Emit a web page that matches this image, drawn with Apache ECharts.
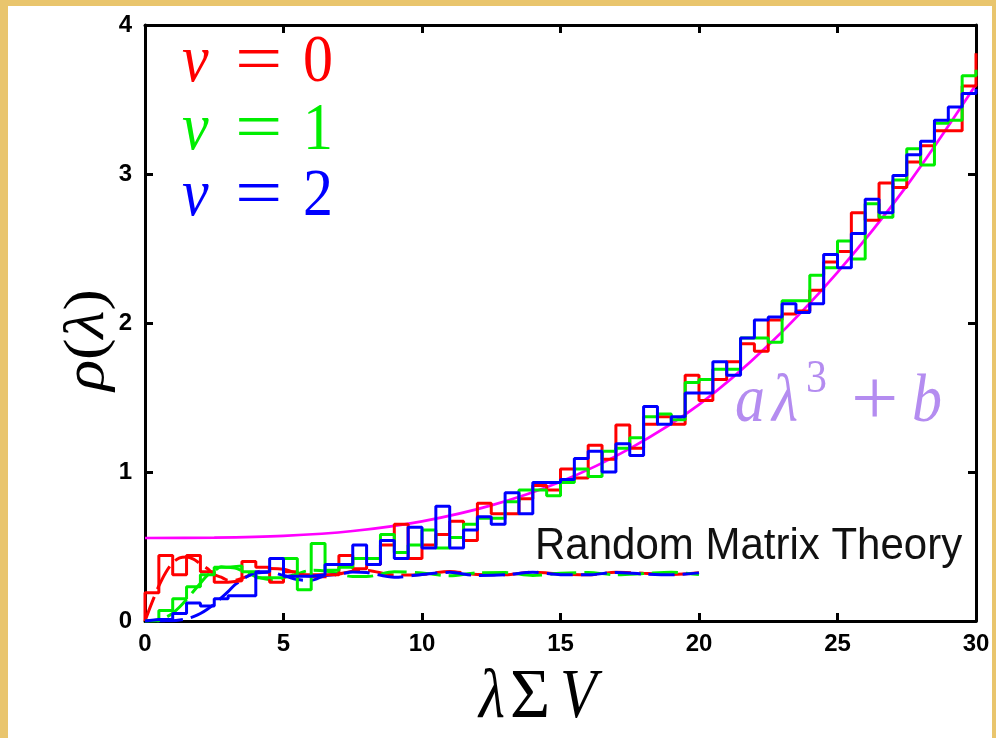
<!DOCTYPE html>
<html><head><meta charset="utf-8">
<script src="https://cdn.jsdelivr.net/npm/echarts@6/dist/echarts.min.js"></script>
<style>html,body{margin:0;padding:0;background:#fff}#c{width:996px;height:738px}</style>
</head><body><div id="c"></div>
<script>
// ---- data ----
const binEdges = [0,0.5,1,1.5,2,2.5,3,3.5,4,4.5,5,5.5,6,6.5,7,7.5,8,8.5,9,9.5,
  10,10.5,11,11.5,12,12.5,13,13.5,14,14.5,15,15.5,16,16.5,17,17.5,18,18.5,19,19.5,
  20,20.5,21,21.5,22,22.5,23,23.5,24,24.5,25,25.5,26,26.5,27,27.5,28,28.5,29,29.5,30];
const redHist = [0.19,0.44,0.31,0.44,0.33,0.26,0.27,0.40,0.36,0.26,
  0.33,0.31,0.31,0.31,0.44,0.35,0.38,0.51,0.65,0.42,
  0.51,0.58,0.67,0.54,0.79,0.72,0.72,0.82,0.91,0.88,
  1.02,0.96,1.18,1.085,1.315,1.16,1.32,1.37,1.32,1.65,
  1.48,1.62,1.74,1.86,1.81,2.02,2.06,2.08,2.22,2.41,
  2.48,2.74,2.69,2.94,2.91,3.08,3.19,3.29,3.29,3.59,
  3.81];
const greenHist = [0.00,0.07,0.15,0.23,0.31,0.36,0.37,0.33,0.29,0.29,
  0.42,0.21,0.52,0.34,0.36,0.42,0.42,0.58,0.46,0.51,
  0.61,0.49,0.56,0.65,0.69,0.69,0.80,0.88,0.88,0.84,
  0.93,1.02,0.97,1.14,1.16,1.23,1.37,1.39,1.35,1.60,
  1.62,1.69,1.69,1.90,1.90,1.87,2.15,2.15,2.32,2.37,
  2.55,2.43,2.80,2.71,2.96,3.17,3.06,3.34,3.36,3.66,
  3.70];
const blueHist = [0.01,0.01,0.05,0.12,0.10,0.15,0.17,0.17,0.33,0.42,
  0.30,0.30,0.31,0.38,0.38,0.51,0.38,0.54,0.42,0.63,
  0.49,0.77,0.49,0.61,0.70,0.65,0.86,0.72,0.93,0.93,
  0.95,1.09,1.14,1.00,1.19,1.11,1.44,1.32,1.37,1.53,
  1.53,1.74,1.65,1.90,2.02,2.04,2.13,2.07,2.13,2.46,
  2.37,2.60,2.83,2.74,2.99,3.13,3.22,3.36,3.45,3.54,
  3.57];

const rmtX = [0,0.25,0.5,0.75,1,1.25,1.5,1.75,2,2.25,2.5,2.75,3,3.25,3.5,3.75,4,4.5,5,5.5,6,6.5,7,7.5,8,9,10,11,12,13,14,15,16,17,18,19,20];
const rmtRed = [0,0.123,0.235,0.326,0.39,0.424,0.43,0.415,0.383,0.352,0.312,0.294,0.274,0.274,0.286,0.305,0.324,0.352,0.348,0.32,0.30,0.297,0.315,0.334,0.339,0.308,0.312,0.333,0.312,0.31,0.328,0.315,0.31,0.327,0.32,0.312,0.324];
const rmtGreen = [0,0.001,0.008,0.024,0.053,0.094,0.144,0.20,0.254,0.307,0.335,0.364,0.36,0.356,0.338,0.319,0.298,0.278,0.29,0.317,0.34,0.336,0.316,0.298,0.298,0.33,0.323,0.303,0.323,0.325,0.306,0.32,0.326,0.31,0.318,0.327,0.312];
const rmtBlue = [0,0,0,0.001,0.002,0.007,0.015,0.029,0.05,0.079,0.114,0.155,0.197,0.244,0.276,0.305,0.322,0.328,0.305,0.278,0.273,0.305,0.314,0.329,0.325,0.294,0.312,0.327,0.305,0.31,0.327,0.311,0.31,0.326,0.315,0.31,0.323];

const fitX = [0,2.5,5,7.5,10,12.5,15,17.5,20,22.5,25,27.5,30];
const fitY = [0.557,0.559,0.571,0.604,0.669,0.776,0.935,1.157,1.452,1.85,2.34,2.92,3.60];

const xTicks = [0,5,10,15,20,25,30];
const yTicks = [0,1,2,3,4];
const nuValues = ['0','1','2'];
const seriesColors = ['#ff0000','#00ee00','#0000ff'];
const fitLabel = ['a','λ','3','+','b'];
const rmtLabel = 'Random Matrix Theory';

// ---- build ----
function histData(vals){
  const d=[[binEdges[0],0]];
  for(let i=0;i<vals.length;i++) d.push([binEdges[i],vals[i]]);
  return d;
}
function pairs(xs,ys){return xs.map((x,i)=>[x,ys[i]]);}

const chart = echarts.init(document.getElementById('c'),null,{renderer:'canvas'});
const axisCommon = {
  type:'value', splitLine:{show:false},
  axisLine:{show:true,onZero:false,lineStyle:{color:'#000',width:3}},
  axisTick:{show:true,inside:true,length:8,lineStyle:{color:'#000',width:3}},
};
const lbl = {color:'#000',fontSize:24,fontWeight:'bold',fontFamily:'"Liberation Sans", Arial, sans-serif'};

const SERIF = '"Liberation Serif", "DejaVu Serif", serif';
function txt(str,x,y,font,fill,sy,sx){
  return {type:'text',x:x,y:y,scaleY:sy||1,scaleX:sx||1,z:50,
    style:{text:str,font:font,fill:fill,textAlign:'left',textVerticalAlign:'middle',verticalAlign:'middle'}};
}
const graphics = [
  {type:'rect',shape:{x:0,y:0,width:8,height:738},style:{fill:'#e9c56d'},z:60},
  {type:'rect',shape:{x:0,y:0,width:996,height:6},style:{fill:'#e9c56d'},z:60},
  {type:'rect',shape:{x:992,y:0,width:4,height:738},style:{fill:'#e9c56d'},z:60},
];
const legendY = [63,131,197];
nuValues.forEach((v,i)=>{
  graphics.push(txt('ν',182,legendY[i],'italic 60px '+SERIF,seriesColors[i],1.12));
  graphics.push(txt('=',235,legendY[i],'60px '+SERIF,seriesColors[i],1.12,1.4));
  graphics.push(txt(v,303,legendY[i],'60px '+SERIF,seriesColors[i],1.12));
});
const fitCol = '#b48cf0';
graphics.push(txt(fitLabel[0],735,403,'italic 60px '+SERIF,fitCol,1.12));
graphics.push(txt(fitLabel[1],772,403,'italic 60px '+SERIF,fitCol,1.12));
graphics.push(txt(fitLabel[2],806,380,'42px '+SERIF,fitCol,1.12));
graphics.push(txt(fitLabel[3],851,404,'60px '+SERIF,fitCol,1.3,1.4));
graphics.push(txt(fitLabel[4],912,403,'italic 60px '+SERIF,fitCol,1.12));
graphics.push(txt(rmtLabel,535,547,'42px "Liberation Sans", Arial, sans-serif','#111',1.05));
// axis titles
graphics.push(txt('λ',479,699,'italic 60px '+SERIF,'#000',1.17));
graphics.push(txt('Σ',510,699,'60px '+SERIF,'#000',1.17,1.15));
graphics.push(txt('V',560,699,'italic 60px '+SERIF,'#000',1.17));
graphics.push({type:'text',x:88,y:340,rotation:Math.PI/2,scaleX:1.15,z:50,
  style:{text:'{i|ρ}{n|(}{i|λ}{n|)}',textAlign:'center',textVerticalAlign:'middle',verticalAlign:'middle',fill:'#000',
    rich:{i:{fontStyle:'italic',fontSize:56,fontFamily:SERIF,fill:'#000'},n:{fontSize:56,fontFamily:SERIF,fill:'#000'}}}});

const option = {
  animation:false,
  backgroundColor:'#ffffff',
  grid:{left:145,right:20,top:25,bottom:117,containLabel:false,outerBoundsMode:'none'},
  xAxis:[
    Object.assign({},axisCommon,{position:'bottom',min:0,max:30,interval:5,
      axisLabel:Object.assign({margin:11,formatter:v=>xTicks.includes(v)?String(v):''},lbl)}),
    Object.assign({},axisCommon,{position:'top',min:0,max:30,interval:5,axisLabel:{show:false}})
  ],
  yAxis:[
    Object.assign({},axisCommon,{position:'left',min:0,max:4,interval:1,
      axisLabel:Object.assign({margin:13,formatter:v=>yTicks.includes(v)?String(v):''},lbl)}),
    Object.assign({},axisCommon,{position:'right',min:0,max:4,interval:1,axisLabel:{show:false}})
  ],
  series:[
    {type:'line',data:pairs(fitX,fitY),smooth:0.3,showSymbol:false,z:2,
      lineStyle:{color:'#ff00ff',width:2.7}},
    {type:'line',data:pairs(rmtX,rmtRed),smooth:0.3,showSymbol:false,z:3,
      lineStyle:{color:'#ff0000',width:3,type:[26,8],dashOffset:0}},
    {type:'line',data:pairs(rmtX,rmtGreen),smooth:0.3,showSymbol:false,z:3,
      lineStyle:{color:'#00ee00',width:3,type:[26,8],dashOffset:11}},
    {type:'line',data:pairs(rmtX,rmtBlue),smooth:0.3,showSymbol:false,z:3,
      lineStyle:{color:'#0000ff',width:3,type:[26,8],dashOffset:22}},
    {type:'line',data:histData(redHist),step:'end',showSymbol:false,z:4,
      lineStyle:{color:'#ff0000',width:3}},
    {type:'line',data:histData(greenHist),step:'end',showSymbol:false,z:5,
      lineStyle:{color:'#00ee00',width:3}},
    {type:'line',data:histData(blueHist),step:'end',showSymbol:false,z:6,
      lineStyle:{color:'#0000ff',width:3}}
  ],
  graphic:{elements:graphics}
};
chart.setOption(option);
</script></body></html>
